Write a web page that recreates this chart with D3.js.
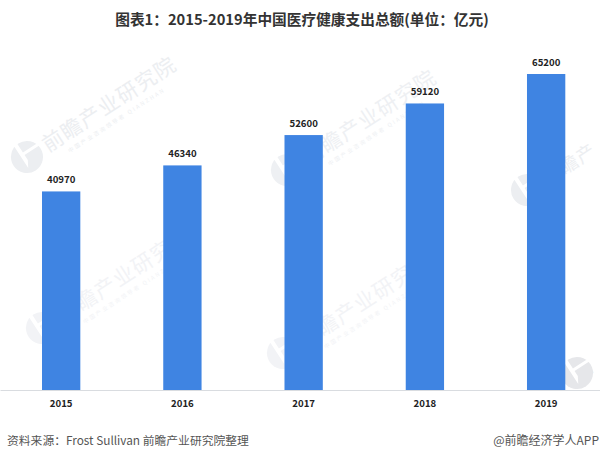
<!DOCTYPE html>
<html>
<head>
<meta charset="utf-8">
<script src="https://cdn.jsdelivr.net/npm/d3@7"></script>
<style>
  body { margin: 0; background: #fff; }
  svg { display: block; }
  text { font-family: "Noto Sans CJK SC", sans-serif; }
</style>
</head>
<body>
<div id="chart"></div>
<script>
// Chart data
var years = ["2015", "2016", "2017", "2018", "2019"];
var spending = [40970, 46340, 52600, 59120, 65200];

var title = "图表1：2015-2019年中国医疗健康支出总额(单位：亿元)";
var source = "资料来源：Frost Sullivan  前瞻产业研究院整理";
var credit = "@前瞻经济学人APP";
var watermark = "前瞻产业研究院";
var slogan = "中国产业咨询领导者 QIANZHAN";

var svgWidth = 600;
var svgHeight = 459;

var svg = d3.select("#chart")
    .append("svg")
    .attr("width", svgWidth)
    .attr("height", svgHeight);

// Scales
var xScale = d3.scaleBand()
    .domain(years)
    .range([0, 607.3])
    .paddingInner(0.684)
    .paddingOuter(0.3464);

var yScale = d3.scaleLinear()
    .domain([0, 65200])
    .range([390, 74]);

// Watermarks sit behind the bars: logo x, logo y, characters, colour, font size, text offset
var marks = [
    [27, 157, 7, "#eceef1", 21, 20],
    [287, 170, 7, "#eef0f3", 21, 20],
    [527, 190, 3, "#eceef1", 18.5, 20],
    [42, 328, 7, "#f2f3f6", 21, 20],
    [283, 353, 7, "#f2f3f6", 21, 20],
    [577, 373, 1, "#e6e7ea", 9, 6]
];

var markGroup = svg.selectAll(".mark")
    .data(marks)
    .enter()
    .append("g")
    .attr("class", "mark")
    .attr("transform", d => `translate(${d[0]}, ${d[1]}) rotate(-33)`);

markGroup.append("circle")
    .attr("r", 16)
    .attr("fill", d => d[3]);

// White notch in the logo
markGroup.append("path")
    .attr("d", "M-5,-17 L-1,-17 L-1,3 L-5,10 Z M-1,-6 L17,-6 L17,-3 L-1,-3 Z")
    .attr("fill", "#fff");

markGroup.append("text")
    .attr("x", d => d[5])
    .attr("y", 8)
    .attr("font-size", d => d[4])
    .attr("letter-spacing", 1.2)
    .attr("fill", d => d[3])
    .text(d => watermark.slice(0, d[2]));

markGroup.filter(d => d[2] === 7)
    .append("text")
    .attr("x", 38)
    .attr("y", 20)
    .attr("font-size", 5.5)
    .attr("letter-spacing", 2)
    .attr("fill", d => d[3])
    .text(slogan);

// Bars
svg.selectAll(".bar")
    .data(spending)
    .enter()
    .append("rect")
    .attr("class", "bar")
    .attr("x", (d, i) => xScale(years[i]))
    .attr("y", d => yScale(d))
    .attr("width", xScale.bandwidth())
    .attr("height", d => yScale(0) - yScale(d))
    .attr("fill", "#3f84e2");

// Value labels
svg.selectAll(".value")
    .data(spending)
    .enter()
    .append("text")
    .attr("class", "value")
    .attr("x", (d, i) => xScale(years[i]) + xScale.bandwidth() / 2)
    .attr("y", d => yScale(d) - 8.5)
    .attr("text-anchor", "middle")
    .attr("font-size", 9.6)
    .attr("font-weight", "bold")
    .attr("fill", "#222")
    .text(d => d);

// X axis
var xAxis = svg.append("g")
    .attr("transform", "translate(0, 390)")
    .call(d3.axisBottom(xScale).tickSize(0).tickPadding(10));

xAxis.select(".domain")
    .attr("stroke", "#d9dce0");

xAxis.selectAll("text")
    .attr("font-size", 9.6)
    .attr("font-weight", "bold")
    .attr("fill", "#222");

// Title and footer
svg.append("text")
    .attr("x", 302)
    .attr("y", 25)
    .attr("text-anchor", "middle")
    .attr("font-size", 14.7)
    .attr("font-weight", "bold")
    .attr("fill", "#333")
    .text(title);

svg.append("text")
    .attr("x", 7)
    .attr("y", 445)
    .attr("font-size", 11.8)
    .attr("fill", "#555")
    .text(source);

svg.append("text")
    .attr("x", 599)
    .attr("y", 445)
    .attr("text-anchor", "end")
    .attr("font-size", 12)
    .attr("fill", "#555")
    .text(credit);
</script>
</body>
</html>
